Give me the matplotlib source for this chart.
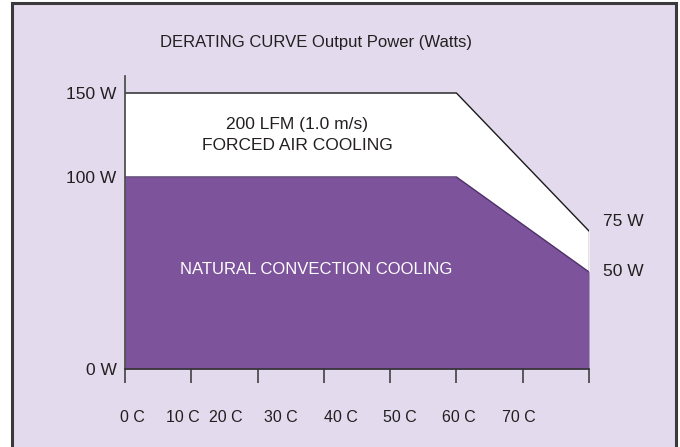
import numpy as np
import matplotlib
matplotlib.use('Agg')
import matplotlib.pyplot as plt
from matplotlib.patches import Rectangle

plt.rcParams['font.family'] = ['Liberation Sans', 'DejaVu Sans']

# data
temps = [0, 60, 80]               # deg C
natural_w = [100, 100, 50]        # natural convection
forced_w = [150, 150, 75]         # 200 LFM forced air
x_labels = ['0 C', '10 C', '20 C', '30 C', '40 C', '50 C', '60 C', '70 C']
x_label_temps = [0, 10, 20, 30, 40, 50, 60, 70]
y_ticks = [0, 100, 150]
y_labels = ['0 W', '100 W', '150 W']

# the drawing is not to a linear scale, so piecewise scales
t_knots = [0, 60, 80]
u_knots = [0, 5, 7]
p_knots = [0, 50, 75, 100, 150, 200]
q_knots = [0, 97, 138, 192, 276, 360]

# the original labels sit a little off their positions (pixels)
x_label_nudge = [7, 3, -10, -10, -5, -1, 2, -4]

def x_fwd(t):
    return np.interp(t, t_knots, u_knots)

def x_inv(u):
    return np.interp(u, u_knots, t_knots)

def y_fwd(p):
    return np.interp(p, p_knots, q_knots)

def y_inv(q):
    return np.interp(q, q_knots, p_knots)

BG = '#E3DBED'
PURPLE = '#7D539C'
TXT = '#231F20'

fig = plt.figure(figsize=(6.8, 4.47), dpi=100)
fig.patch.set_facecolor('white')
fig.patches.append(Rectangle((12 / 680, -0.1), 664 / 680, 1.1 - 3 / 447,
                             transform=fig.transFigure, facecolor=BG,
                             edgecolor='#3a3a3a', linewidth=2.2, zorder=-10))

ax = fig.add_axes([125 / 680, 78 / 447, 464 / 680, 293 / 447])
ax.set_facecolor('none')
ax.set_xscale('function', functions=(x_fwd, x_inv))
ax.set_yscale('function', functions=(y_fwd, y_inv))
ax.set_xlim(0, 80)
ax.set_ylim(0, y_inv(293))

ax.fill_between(temps, natural_w, forced_w, color='white', linewidth=0)
ax.fill_between(temps, 0, natural_w, color=PURPLE, linewidth=0)
ax.plot(temps, forced_w, color='#1a1a1a', linewidth=1.0)
ax.plot(temps, natural_w, color='#4e2f68', linewidth=1.0)
ax.plot([temps[-1], temps[-1]], [0, forced_w[-1]], color='#666666', linewidth=1.0)

for s in ['top', 'right']:
    ax.spines[s].set_visible(False)
ax.spines['left'].set_color('#444444')
ax.spines['bottom'].set_color('#333333')
ax.spines['left'].set_linewidth(1.2)
ax.spines['bottom'].set_linewidth(1.2)

ax.set_xticks(x_inv(np.arange(8)))
ax.set_xticklabels([])
ax.tick_params(axis='x', direction='out', length=10, width=1.1, color='#333333')
ax.set_yticks(y_ticks)
ax.set_yticklabels(y_labels, fontsize=12.5, color=TXT)
ax.tick_params(axis='y', length=0, pad=6)

for t, lab, dx in zip(x_label_temps, x_labels, x_label_nudge):
    ax.annotate(lab, (t, -0.164), xycoords=ax.get_xaxis_transform(),
                xytext=(dx, 0), textcoords='offset pixels',
                ha='center', va='center', fontsize=11.5, color=TXT,
                annotation_clip=False)

ax.annotate('75 W', (temps[-1], forced_w[-1]), xytext=(14, 9),
            textcoords='offset pixels', ha='left', va='center', fontsize=12.5, color=TXT,
            annotation_clip=False)
ax.annotate('50 W', (temps[-1], natural_w[-1]), xytext=(14, 1),
            textcoords='offset pixels', ha='left', va='center', fontsize=12.5, color=TXT,
            annotation_clip=False)

ax.text(0.371, (369 - 125) / 293, '200 LFM (1.0 m/s)', transform=ax.transAxes,
        ha='center', va='center', fontsize=12.5, color=TXT)
ax.text(0.371, (369 - 146) / 293, 'FORCED AIR COOLING', transform=ax.transAxes,
        ha='center', va='center', fontsize=12.5, color=TXT)
ax.text(0.412, (369 - 270) / 293, 'NATURAL CONVECTION COOLING', transform=ax.transAxes,
        ha='center', va='center', fontsize=12, color='white')

fig.text(316 / 680, 1 - 42 / 447, 'DERATING CURVE Output Power (Watts)',
         ha='center', va='center', fontsize=12, color=TXT)

fig.savefig('out.png', dpi=100)
